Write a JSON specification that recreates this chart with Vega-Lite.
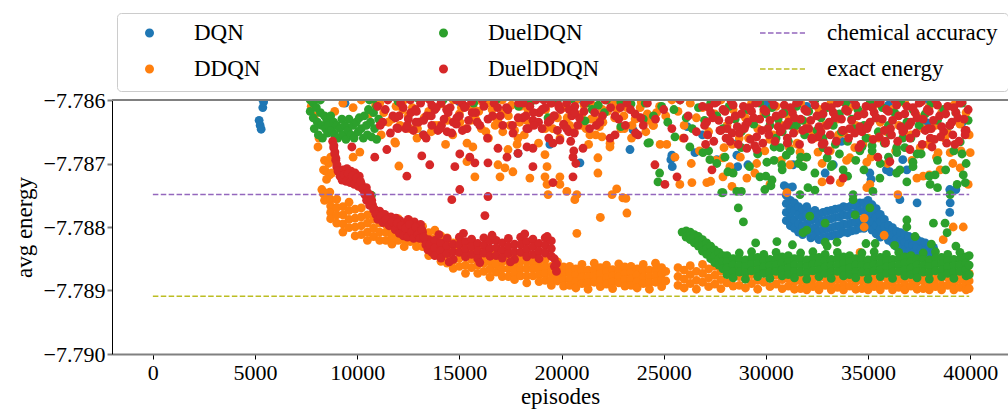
{
"$schema":"https://vega.github.io/schema/vega-lite/v6.json",
"width":896,"height":254,
"autosize":{"type":"none"},
"padding":{"left":112,"top":100,"right":0,"bottom":57},
"background":"white",
"config":{
"view":{"stroke":null},
"font":"Liberation Serif",
"axis":{"grid":false,"labelFont":"Liberation Serif","titleFont":"Liberation Serif","labelColor":"#000","titleColor":"#000","titleFontWeight":"normal","labelFontSize":22,"titleFontSize":23,"labelFlush":false,"labelOverlap":false},
"axisX":{"domainColor":"#808080","domainWidth":2,"tickColor":"#000","tickWidth":1,"tickSize":5,"labelPadding":3,"titlePadding":2},
"axisY":{"domainColor":"#000","domainWidth":1,"tickColor":"#808080","tickWidth":2,"tickSize":5,"labelPadding":2,"titlePadding":7}
},
"datasets":{
"dqn":[
{"x":5200,"y":-7.78632},{"x":5250,"y":-7.78640},{"x":5300,"y":-7.78646},{"x":5380,"y":-7.78612},{"x":5420,"y":-7.78603},{"x":5350,"y":-7.78598},
{"x":9400,"y":-7.78605},{"x":13220,"y":-7.78655},{"x":15000,"y":-7.78603},{"x":17870,"y":-7.78684},{"x":19430,"y":-7.78670},{"x":20900,"y":-7.78699},{"x":21000,"y":-7.78600},{"x":23350,"y":-7.78678},{"x":23500,"y":-7.78647},{"x":25400,"y":-7.78687},{"x":25420,"y":-7.78705},{"x":25350,"y":-7.78694},{"x":26150,"y":-7.78642},{"x":26530,"y":-7.78683},{"x":26900,"y":-7.78655},{"x":27500,"y":-7.78602},{"x":27600,"y":-7.78694},{"x":28580,"y":-7.78687},{"x":28620,"y":-7.78705},{"x":28600,"y":-7.78668},{"x":29120,"y":-7.78702},{"x":30000,"y":-7.78606},{"x":30900,"y":-7.78735},{"x":31080,"y":-7.78738},{"x":31330,"y":-7.78702},{"x":31300,"y":-7.78737},{"x":32000,"y":-7.78610},{"x":32900,"y":-7.78715},{"x":33300,"y":-7.78702},{"x":33500,"y":-7.78662},{"x":33700,"y":-7.78665},{"x":34000,"y":-7.78604},{"x":35090,"y":-7.78715},{"x":35150,"y":-7.78725},{"x":35900,"y":-7.78710},{"x":36000,"y":-7.78608},{"x":36070,"y":-7.78713},{"x":36700,"y":-7.78694},{"x":36560,"y":-7.78757},{"x":36900,"y":-7.78710},{"x":37400,"y":-7.78762},{"x":37900,"y":-7.78636},{"x":38000,"y":-7.78602},{"x":39000,"y":-7.78741},{"x":39020,"y":-7.78762},{"x":39000,"y":-7.78777},{"x":39300,"y":-7.78741},{"x":39600,"y":-7.78636},
{"x":31000,"y":-7.78750},{"x":31000,"y":-7.78763},{"x":31000,"y":-7.78777},{"x":31000,"y":-7.78790},
{"x":31200,"y":-7.78758},{"x":31200,"y":-7.78771},{"x":31200,"y":-7.78785},{"x":31200,"y":-7.78798},
{"x":31400,"y":-7.78762},{"x":31400,"y":-7.78775},{"x":31400,"y":-7.78789},{"x":31400,"y":-7.78802},
{"x":31600,"y":-7.78768},{"x":31600,"y":-7.78781},{"x":31600,"y":-7.78795},{"x":31600,"y":-7.78808},
{"x":31800,"y":-7.78772},{"x":31800,"y":-7.78785},{"x":31800,"y":-7.78799},{"x":31800,"y":-7.78812},
{"x":32000,"y":-7.78768},{"x":32000,"y":-7.78781},{"x":32000,"y":-7.78795},{"x":32000,"y":-7.78808},
{"x":32200,"y":-7.78777},{"x":32200,"y":-7.78790},{"x":32200,"y":-7.78804},{"x":32200,"y":-7.78817},
{"x":32400,"y":-7.78774},{"x":32400,"y":-7.78787},{"x":32400,"y":-7.78801},{"x":32400,"y":-7.78814},
{"x":32600,"y":-7.78780},{"x":32600,"y":-7.78793},{"x":32600,"y":-7.78807},{"x":32600,"y":-7.78820},
{"x":32800,"y":-7.78777},{"x":32800,"y":-7.78790},{"x":32800,"y":-7.78804},{"x":32800,"y":-7.78817},
{"x":33000,"y":-7.78775},{"x":33000,"y":-7.78788},{"x":33000,"y":-7.78802},{"x":33000,"y":-7.78815},
{"x":33200,"y":-7.78774},{"x":33200,"y":-7.78787},{"x":33200,"y":-7.78801},{"x":33200,"y":-7.78814},
{"x":33400,"y":-7.78772},{"x":33400,"y":-7.78785},{"x":33400,"y":-7.78799},{"x":33400,"y":-7.78812},
{"x":33600,"y":-7.78771},{"x":33600,"y":-7.78784},{"x":33600,"y":-7.78798},{"x":33600,"y":-7.78811},
{"x":33800,"y":-7.78768},{"x":33800,"y":-7.78781},{"x":33800,"y":-7.78795},{"x":33800,"y":-7.78808},
{"x":34000,"y":-7.78769},{"x":34000,"y":-7.78782},{"x":34000,"y":-7.78796},{"x":34000,"y":-7.78809},
{"x":34200,"y":-7.78766},{"x":34200,"y":-7.78779},{"x":34200,"y":-7.78793},{"x":34200,"y":-7.78806},
{"x":34400,"y":-7.78765},{"x":34400,"y":-7.78778},{"x":34400,"y":-7.78792},{"x":34400,"y":-7.78805},
{"x":34600,"y":-7.78762},{"x":34600,"y":-7.78775},{"x":34600,"y":-7.78789},{"x":34600,"y":-7.78802},
{"x":34800,"y":-7.78762},{"x":34800,"y":-7.78775},{"x":34800,"y":-7.78789},{"x":34800,"y":-7.78802},
{"x":35000,"y":-7.78758},{"x":35000,"y":-7.78771},{"x":35000,"y":-7.78785},{"x":35000,"y":-7.78798},
{"x":35200,"y":-7.78765},{"x":35200,"y":-7.78778},{"x":35200,"y":-7.78792},{"x":35200,"y":-7.78805},
{"x":35400,"y":-7.78771},{"x":35400,"y":-7.78784},{"x":35400,"y":-7.78798},{"x":35400,"y":-7.78811},
{"x":35600,"y":-7.78780},{"x":35600,"y":-7.78792},{"x":35600,"y":-7.78804},{"x":35600,"y":-7.78816},
{"x":35800,"y":-7.78788},{"x":35800,"y":-7.78800},{"x":35800,"y":-7.78812},
{"x":36000,"y":-7.78797},{"x":36000,"y":-7.78809},{"x":36000,"y":-7.78821},
{"x":36200,"y":-7.78801},{"x":36200,"y":-7.78813},{"x":36200,"y":-7.78825},
{"x":36400,"y":-7.78807},{"x":36400,"y":-7.78819},{"x":36400,"y":-7.78831},
{"x":36600,"y":-7.78809},{"x":36600,"y":-7.78821},{"x":36600,"y":-7.78833},
{"x":36800,"y":-7.78812},{"x":36800,"y":-7.78824},{"x":36800,"y":-7.78836},
{"x":37000,"y":-7.78815},{"x":37000,"y":-7.78827},{"x":37000,"y":-7.78839},
{"x":37200,"y":-7.78817},{"x":37200,"y":-7.78829},{"x":37200,"y":-7.78841},
{"x":37400,"y":-7.78820},{"x":37400,"y":-7.78832},{"x":37400,"y":-7.78844},
{"x":37600,"y":-7.78823},{"x":37600,"y":-7.78835},{"x":37600,"y":-7.78847},
{"x":37800,"y":-7.78825},{"x":37800,"y":-7.78837},{"x":37800,"y":-7.78849},
{"x":38000,"y":-7.78830},{"x":38000,"y":-7.78840},{"x":38000,"y":-7.78850},
{"x":38200,"y":-7.78832},{"x":38200,"y":-7.78842}
],
"ddqn":[
{"x":7700,"y":-7.78598},{"x":7750,"y":-7.78610},{"x":7900,"y":-7.78625},{"x":8080,"y":-7.78674},{"x":8130,"y":-7.78660},{"x":8270,"y":-7.78741},{"x":8350,"y":-7.78710},{"x":8400,"y":-7.78695},{"x":8450,"y":-7.78712},{"x":8500,"y":-7.78725},{"x":8600,"y":-7.78700},{"x":8650,"y":-7.78718},{"x":8700,"y":-7.78690},{"x":8750,"y":-7.78715},{"x":8660,"y":-7.78745},{"x":8500,"y":-7.78752},{"x":8350,"y":-7.78748},{"x":8900,"y":-7.78618},{"x":9300,"y":-7.78605},{"x":9800,"y":-7.78612},{"x":10200,"y":-7.78600},{"x":10600,"y":-7.78622},{"x":10900,"y":-7.78608},
{"x":8400,"y":-7.78746},{"x":8400,"y":-7.78758},
{"x":8700,"y":-7.78757},{"x":8700,"y":-7.78767},{"x":8700,"y":-7.78777},{"x":8700,"y":-7.78787},
{"x":9000,"y":-7.78756},{"x":9000,"y":-7.78769},{"x":9000,"y":-7.78781},{"x":9000,"y":-7.78794},
{"x":9300,"y":-7.78768},{"x":9300,"y":-7.78781},{"x":9300,"y":-7.78795},{"x":9300,"y":-7.78808},
{"x":9600,"y":-7.78761},{"x":9600,"y":-7.78774},{"x":9600,"y":-7.78788},{"x":9600,"y":-7.78801},
{"x":9900,"y":-7.78772},{"x":9900,"y":-7.78786},{"x":9900,"y":-7.78800},{"x":9900,"y":-7.78814},
{"x":10200,"y":-7.78770},{"x":10200,"y":-7.78784},{"x":10200,"y":-7.78798},{"x":10200,"y":-7.78812},
{"x":10500,"y":-7.78781},{"x":10500,"y":-7.78794},{"x":10500,"y":-7.78808},{"x":10500,"y":-7.78821},
{"x":10800,"y":-7.78775},{"x":10800,"y":-7.78788},{"x":10800,"y":-7.78802},{"x":10800,"y":-7.78815},
{"x":11100,"y":-7.78781},{"x":11100,"y":-7.78794},{"x":11100,"y":-7.78808},{"x":11100,"y":-7.78821},
{"x":11400,"y":-7.78783},{"x":11400,"y":-7.78796},{"x":11400,"y":-7.78808},{"x":11400,"y":-7.78821},
{"x":11700,"y":-7.78791},{"x":11700,"y":-7.78803},{"x":11700,"y":-7.78815},{"x":11700,"y":-7.78827},
{"x":12000,"y":-7.78787},{"x":12000,"y":-7.78798},{"x":12000,"y":-7.78810},{"x":12000,"y":-7.78821},
{"x":12300,"y":-7.78799},{"x":12300,"y":-7.78810},{"x":12300,"y":-7.78820},{"x":12300,"y":-7.78831},
{"x":12600,"y":-7.78791},{"x":12600,"y":-7.78802},{"x":12600,"y":-7.78812},{"x":12600,"y":-7.78823},
{"x":12900,"y":-7.78801},{"x":12900,"y":-7.78811},{"x":12900,"y":-7.78821},{"x":12900,"y":-7.78831},
{"x":13200,"y":-7.78799},{"x":13200,"y":-7.78810},{"x":13200,"y":-7.78820},{"x":13200,"y":-7.78831},
{"x":13500,"y":-7.78809},{"x":13500,"y":-7.78821},{"x":13500,"y":-7.78833},{"x":13500,"y":-7.78845},
{"x":13800,"y":-7.78805},{"x":13800,"y":-7.78818},{"x":13800,"y":-7.78830},{"x":13800,"y":-7.78843},
{"x":14100,"y":-7.78814},{"x":14100,"y":-7.78827},{"x":14100,"y":-7.78841},{"x":14100,"y":-7.78854},
{"x":14400,"y":-7.78817},{"x":14400,"y":-7.78830},{"x":14400,"y":-7.78844},{"x":14400,"y":-7.78857},
{"x":14700,"y":-7.78825},{"x":14700,"y":-7.78838},{"x":14700,"y":-7.78852},{"x":14700,"y":-7.78865},
{"x":15000,"y":-7.78822},{"x":15000,"y":-7.78835},{"x":15000,"y":-7.78849},{"x":15000,"y":-7.78862},
{"x":15300,"y":-7.78833},{"x":15300,"y":-7.78846},{"x":15300,"y":-7.78860},{"x":15300,"y":-7.78873},
{"x":15600,"y":-7.78824},{"x":15600,"y":-7.78837},{"x":15600,"y":-7.78851},{"x":15600,"y":-7.78864},
{"x":15900,"y":-7.78833},{"x":15900,"y":-7.78846},{"x":15900,"y":-7.78860},{"x":15900,"y":-7.78873},
{"x":16200,"y":-7.78832},{"x":16200,"y":-7.78845},{"x":16200,"y":-7.78857},{"x":16200,"y":-7.78870},
{"x":16500,"y":-7.78841},{"x":16500,"y":-7.78854},{"x":16500,"y":-7.78866},{"x":16500,"y":-7.78879},
{"x":16800,"y":-7.78835},{"x":16800,"y":-7.78847},{"x":16800,"y":-7.78859},{"x":16800,"y":-7.78871},
{"x":17100,"y":-7.78842},{"x":17100,"y":-7.78854},{"x":17100,"y":-7.78866},{"x":17100,"y":-7.78878},
{"x":17400,"y":-7.78842},{"x":17400,"y":-7.78854},{"x":17400,"y":-7.78866},{"x":17400,"y":-7.78878},
{"x":17700,"y":-7.78849},{"x":17700,"y":-7.78860},{"x":17700,"y":-7.78872},{"x":17700,"y":-7.78883},
{"x":18000,"y":-7.78843},{"x":18000,"y":-7.78854},{"x":18000,"y":-7.78866},{"x":18000,"y":-7.78877},
{"x":18300,"y":-7.78854},{"x":18300,"y":-7.78865},{"x":18300,"y":-7.78877},{"x":18300,"y":-7.78888},
{"x":18600,"y":-7.78845},{"x":18600,"y":-7.78856},{"x":18600,"y":-7.78866},{"x":18600,"y":-7.78877},
{"x":18900,"y":-7.78854},{"x":18900,"y":-7.78865},{"x":18900,"y":-7.78875},{"x":18900,"y":-7.78886},
{"x":19200,"y":-7.78852},{"x":19200,"y":-7.78863},{"x":19200,"y":-7.78873},{"x":19200,"y":-7.78884},
{"x":19500,"y":-7.78862},{"x":19500,"y":-7.78872},{"x":19500,"y":-7.78882},{"x":19500,"y":-7.78892},
{"x":19800,"y":-7.78855},{"x":19800,"y":-7.78865},{"x":19800,"y":-7.78875},{"x":19800,"y":-7.78885},
{"x":20100,"y":-7.78863},{"x":20100,"y":-7.78873},{"x":20100,"y":-7.78883},{"x":20100,"y":-7.78893},
{"x":20400,"y":-7.78862},{"x":20400,"y":-7.78872},{"x":20400,"y":-7.78882},{"x":20400,"y":-7.78892},
{"x":20700,"y":-7.78866},{"x":20700,"y":-7.78876},{"x":20700,"y":-7.78886},{"x":20700,"y":-7.78896},
{"x":21000,"y":-7.78859},{"x":21000,"y":-7.78869},{"x":21000,"y":-7.78879},{"x":21000,"y":-7.78889},
{"x":21300,"y":-7.78868},{"x":21300,"y":-7.78878},{"x":21300,"y":-7.78888},{"x":21300,"y":-7.78898},
{"x":21600,"y":-7.78857},{"x":21600,"y":-7.78867},{"x":21600,"y":-7.78877},{"x":21600,"y":-7.78887},
{"x":21900,"y":-7.78864},{"x":21900,"y":-7.78874},{"x":21900,"y":-7.78884},{"x":21900,"y":-7.78894},
{"x":22200,"y":-7.78860},{"x":22200,"y":-7.78870},{"x":22200,"y":-7.78880},{"x":22200,"y":-7.78890},
{"x":22500,"y":-7.78867},{"x":22500,"y":-7.78877},{"x":22500,"y":-7.78887},{"x":22500,"y":-7.78897},
{"x":22800,"y":-7.78858},{"x":22800,"y":-7.78868},{"x":22800,"y":-7.78878},{"x":22800,"y":-7.78888},
{"x":23100,"y":-7.78863},{"x":23100,"y":-7.78873},{"x":23100,"y":-7.78883},{"x":23100,"y":-7.78893},
{"x":23400,"y":-7.78862},{"x":23400,"y":-7.78872},{"x":23400,"y":-7.78882},{"x":23400,"y":-7.78892},
{"x":23700,"y":-7.78866},{"x":23700,"y":-7.78876},{"x":23700,"y":-7.78886},{"x":23700,"y":-7.78896},
{"x":24000,"y":-7.78859},{"x":24000,"y":-7.78869},{"x":24000,"y":-7.78879},{"x":24000,"y":-7.78889},
{"x":24300,"y":-7.78868},{"x":24300,"y":-7.78878},{"x":24300,"y":-7.78888},{"x":24300,"y":-7.78898},
{"x":24600,"y":-7.78857},{"x":24600,"y":-7.78867},{"x":24600,"y":-7.78877},{"x":24600,"y":-7.78887},
{"x":24900,"y":-7.78864},{"x":24900,"y":-7.78874},{"x":24900,"y":-7.78884},{"x":24900,"y":-7.78894},
{"x":25100,"y":-7.78870},{"x":25100,"y":-7.78885},
{"x":25700,"y":-7.78864},{"x":25700,"y":-7.78878},{"x":25700,"y":-7.78892},
{"x":26000,"y":-7.78868},{"x":26000,"y":-7.78882},{"x":26000,"y":-7.78896},
{"x":26300,"y":-7.78861},{"x":26300,"y":-7.78875},{"x":26300,"y":-7.78889},
{"x":26600,"y":-7.78870},{"x":26600,"y":-7.78884},{"x":26600,"y":-7.78898},
{"x":26900,"y":-7.78859},{"x":26900,"y":-7.78873},{"x":26900,"y":-7.78887},
{"x":27200,"y":-7.78866},{"x":27200,"y":-7.78880},{"x":27200,"y":-7.78894},
{"x":27500,"y":-7.78862},{"x":27500,"y":-7.78876},{"x":27500,"y":-7.78890},
{"x":27800,"y":-7.78869},{"x":27800,"y":-7.78883},{"x":27800,"y":-7.78897},
{"x":28100,"y":-7.78860},{"x":28100,"y":-7.78874},{"x":28100,"y":-7.78888},
{"x":28400,"y":-7.78865},{"x":28400,"y":-7.78879},{"x":28400,"y":-7.78893},
{"x":28700,"y":-7.78864},{"x":28700,"y":-7.78878},{"x":28700,"y":-7.78892},
{"x":29000,"y":-7.78868},{"x":29000,"y":-7.78882},{"x":29000,"y":-7.78896},
{"x":29300,"y":-7.78861},{"x":29300,"y":-7.78875},{"x":29300,"y":-7.78889},
{"x":29600,"y":-7.78870},{"x":29600,"y":-7.78884},{"x":29600,"y":-7.78898},
{"x":29900,"y":-7.78859},{"x":29900,"y":-7.78873},{"x":29900,"y":-7.78887},
{"x":30200,"y":-7.78866},{"x":30200,"y":-7.78880},{"x":30200,"y":-7.78894},
{"x":30500,"y":-7.78862},{"x":30500,"y":-7.78876},{"x":30500,"y":-7.78890},
{"x":30800,"y":-7.78869},{"x":30800,"y":-7.78883},{"x":30800,"y":-7.78897},
{"x":31100,"y":-7.78869},{"x":31100,"y":-7.78881},{"x":31100,"y":-7.78893},
{"x":31400,"y":-7.78874},{"x":31400,"y":-7.78886},{"x":31400,"y":-7.78898},
{"x":31700,"y":-7.78873},{"x":31700,"y":-7.78885},{"x":31700,"y":-7.78897},
{"x":32000,"y":-7.78877},{"x":32000,"y":-7.78889},{"x":32000,"y":-7.78899},
{"x":32300,"y":-7.78870},{"x":32300,"y":-7.78882},{"x":32300,"y":-7.78894},
{"x":32600,"y":-7.78879},{"x":32600,"y":-7.78891},{"x":32600,"y":-7.78899},
{"x":32900,"y":-7.78868},{"x":32900,"y":-7.78880},{"x":32900,"y":-7.78892},
{"x":33200,"y":-7.78875},{"x":33200,"y":-7.78887},{"x":33200,"y":-7.78899},
{"x":33500,"y":-7.78871},{"x":33500,"y":-7.78883},{"x":33500,"y":-7.78895},
{"x":33800,"y":-7.78878},{"x":33800,"y":-7.78890},{"x":33800,"y":-7.78899},
{"x":34100,"y":-7.78869},{"x":34100,"y":-7.78881},{"x":34100,"y":-7.78893},
{"x":34400,"y":-7.78874},{"x":34400,"y":-7.78886},{"x":34400,"y":-7.78898},
{"x":34700,"y":-7.78873},{"x":34700,"y":-7.78885},{"x":34700,"y":-7.78897},
{"x":35000,"y":-7.78877},{"x":35000,"y":-7.78889},{"x":35000,"y":-7.78899},
{"x":35300,"y":-7.78870},{"x":35300,"y":-7.78882},{"x":35300,"y":-7.78894},
{"x":35600,"y":-7.78879},{"x":35600,"y":-7.78891},{"x":35600,"y":-7.78899},
{"x":35900,"y":-7.78868},{"x":35900,"y":-7.78880},{"x":35900,"y":-7.78892},
{"x":36200,"y":-7.78875},{"x":36200,"y":-7.78887},{"x":36200,"y":-7.78899},
{"x":36500,"y":-7.78871},{"x":36500,"y":-7.78883},{"x":36500,"y":-7.78895},
{"x":36800,"y":-7.78878},{"x":36800,"y":-7.78890},{"x":36800,"y":-7.78899},
{"x":37100,"y":-7.78869},{"x":37100,"y":-7.78881},{"x":37100,"y":-7.78893},
{"x":37400,"y":-7.78874},{"x":37400,"y":-7.78886},{"x":37400,"y":-7.78898},
{"x":37700,"y":-7.78873},{"x":37700,"y":-7.78885},{"x":37700,"y":-7.78897},
{"x":38000,"y":-7.78877},{"x":38000,"y":-7.78889},{"x":38000,"y":-7.78899},
{"x":38300,"y":-7.78870},{"x":38300,"y":-7.78882},{"x":38300,"y":-7.78894},
{"x":38600,"y":-7.78879},{"x":38600,"y":-7.78891},{"x":38600,"y":-7.78899},
{"x":38900,"y":-7.78868},{"x":38900,"y":-7.78880},{"x":38900,"y":-7.78892},
{"x":39200,"y":-7.78875},{"x":39200,"y":-7.78887},{"x":39200,"y":-7.78899},
{"x":39500,"y":-7.78871},{"x":39500,"y":-7.78883},{"x":39500,"y":-7.78895},
{"x":39800,"y":-7.78878},{"x":39800,"y":-7.78890},{"x":39800,"y":-7.78899},
{"x":39950,"y":-7.78873},{"x":39950,"y":-7.78885},{"x":39950,"y":-7.78897},
{"x":10130,"y":-7.78682},{"x":9800,"y":-7.78690},{"x":11840,"y":-7.78666},{"x":12040,"y":-7.78704},{"x":15660,"y":-7.78674},{"x":15510,"y":-7.78691},{"x":15760,"y":-7.78721},{"x":15370,"y":-7.78697},{"x":16890,"y":-7.78702},{"x":16990,"y":-7.78721},{"x":17380,"y":-7.78678},{"x":17230,"y":-7.78707},{"x":17620,"y":-7.78713},{"x":17870,"y":-7.78660},{"x":18450,"y":-7.78723},{"x":19190,"y":-7.78686},{"x":19290,"y":-7.78705},{"x":19190,"y":-7.78721},{"x":19290,"y":-7.78733},{"x":19340,"y":-7.78749},{"x":19920,"y":-7.78721},{"x":19920,"y":-7.78733},{"x":20260,"y":-7.78744},{"x":20750,"y":-7.78749},{"x":20650,"y":-7.78757},{"x":21390,"y":-7.78655},{"x":21980,"y":-7.78658},{"x":21780,"y":-7.78691},{"x":21780,"y":-7.78715},{"x":22370,"y":-7.78674},{"x":22470,"y":-7.78749},{"x":23000,"y":-7.78754},{"x":21900,"y":-7.78785},{"x":23200,"y":-7.78778},{"x":20750,"y":-7.78810},{"x":22700,"y":-7.78740},{"x":23150,"y":-7.78755},{"x":25790,"y":-7.78733},{"x":26380,"y":-7.78730},{"x":27110,"y":-7.78730},{"x":27300,"y":-7.78728},{"x":27900,"y":-7.78691},{"x":28240,"y":-7.78705},{"x":27900,"y":-7.78721},{"x":28340,"y":-7.78736},{"x":29070,"y":-7.78723},{"x":30200,"y":-7.78733},{"x":29460,"y":-7.78715},{"x":31180,"y":-7.78702},{"x":31530,"y":-7.78668},{"x":31670,"y":-7.78682},{"x":31030,"y":-7.78746},{"x":32550,"y":-7.78682},{"x":32750,"y":-7.78729},{"x":33640,"y":-7.78730},{"x":34110,"y":-7.78691},{"x":34940,"y":-7.78698},{"x":35090,"y":-7.78733},{"x":34940,"y":-7.78738},{"x":36460,"y":-7.78749},{"x":37390,"y":-7.78723},{"x":37700,"y":-7.78720},{"x":38000,"y":-7.78718},{"x":38530,"y":-7.78710},{"x":38430,"y":-7.78683},{"x":39020,"y":-7.78683},{"x":39510,"y":-7.78707},{"x":39900,"y":-7.78733},{"x":40000,"y":-7.78683},{"x":34810,"y":-7.78786},{"x":34810,"y":-7.78800},{"x":35790,"y":-7.78813},{"x":34610,"y":-7.78840},{"x":38680,"y":-7.78820},{"x":39170,"y":-7.78800},{"x":39660,"y":-7.78800},
{"x":11100,"y":-7.78605},{"x":11300,"y":-7.78620},{"x":11500,"y":-7.78598},{"x":11700,"y":-7.78630},{"x":11900,"y":-7.78610},{"x":12100,"y":-7.78640},{"x":12300,"y":-7.78600},{"x":12500,"y":-7.78625},{"x":12700,"y":-7.78612},{"x":12950,"y":-7.78645},{"x":13200,"y":-7.78598},{"x":13500,"y":-7.78618},{"x":13800,"y":-7.78640},{"x":14100,"y":-7.78606},{"x":14400,"y":-7.78632},{"x":14700,"y":-7.78600},{"x":15000,"y":-7.78622},{"x":15300,"y":-7.78645},{"x":15450,"y":-7.78610},{"x":15800,"y":-7.78630},{"x":16100,"y":-7.78602},{"x":16300,"y":-7.78650},{"x":16600,"y":-7.78615},{"x":16900,"y":-7.78635},{"x":17100,"y":-7.78600},{"x":17400,"y":-7.78625},{"x":17700,"y":-7.78648},{"x":18000,"y":-7.78610},{"x":18300,"y":-7.78632},{"x":18600,"y":-7.78600},{"x":18900,"y":-7.78620},{"x":19200,"y":-7.78645},{"x":19500,"y":-7.78605},{"x":19800,"y":-7.78628},{"x":20100,"y":-7.78612},{"x":20400,"y":-7.78640},{"x":20700,"y":-7.78600},{"x":21000,"y":-7.78622},{"x":21200,"y":-7.78645},{"x":21500,"y":-7.78608},{"x":21700,"y":-7.78632},{"x":22000,"y":-7.78615},{"x":22300,"y":-7.78600},{"x":22600,"y":-7.78628},{"x":22900,"y":-7.78645},{"x":23200,"y":-7.78612},{"x":23600,"y":-7.78630},{"x":23900,"y":-7.78603},{"x":24200,"y":-7.78622},{"x":24500,"y":-7.78640},{"x":24800,"y":-7.78610},{"x":25100,"y":-7.78625},{"x":25400,"y":-7.78600},{"x":25700,"y":-7.78618},{"x":26000,"y":-7.78640},{"x":26300,"y":-7.78605},{"x":26600,"y":-7.78628},{"x":26900,"y":-7.78612},{"x":27200,"y":-7.78650},{"x":27500,"y":-7.78622},{"x":27800,"y":-7.78600},{"x":28100,"y":-7.78640},{"x":28400,"y":-7.78615},{"x":28700,"y":-7.78660},{"x":29000,"y":-7.78628},{"x":29300,"y":-7.78605},{"x":29600,"y":-7.78645},{"x":29900,"y":-7.78620},{"x":30200,"y":-7.78662},{"x":30500,"y":-7.78610},{"x":30800,"y":-7.78640},{"x":31100,"y":-7.78625},{"x":31400,"y":-7.78650},{"x":31700,"y":-7.78605},{"x":32000,"y":-7.78635},{"x":32300,"y":-7.78655},{"x":32600,"y":-7.78615},{"x":32900,"y":-7.78640},{"x":33200,"y":-7.78602},{"x":33500,"y":-7.78630},{"x":33800,"y":-7.78652},{"x":34100,"y":-7.78612},{"x":34400,"y":-7.78640},{"x":34700,"y":-7.78620},{"x":35000,"y":-7.78660},{"x":35300,"y":-7.78608},{"x":35600,"y":-7.78635},{"x":35900,"y":-7.78650},{"x":36200,"y":-7.78615},{"x":36500,"y":-7.78640},{"x":36800,"y":-7.78605},{"x":37100,"y":-7.78655},{"x":37400,"y":-7.78625},{"x":37700,"y":-7.78645},{"x":38000,"y":-7.78610},{"x":38300,"y":-7.78640},{"x":38600,"y":-7.78620},{"x":38900,"y":-7.78652},{"x":39200,"y":-7.78608},{"x":39500,"y":-7.78638},{"x":39800,"y":-7.78620},
{"x":11175,"y":-7.78655},{"x":11525,"y":-7.78635},{"x":11875,"y":-7.78668},{"x":12225,"y":-7.78615},{"x":12575,"y":-7.78645},{"x":12925,"y":-7.78660},{"x":13275,"y":-7.78628},{"x":13625,"y":-7.78650},{"x":13975,"y":-7.78640},{"x":14325,"y":-7.78670},{"x":14675,"y":-7.78655},{"x":15025,"y":-7.78635},{"x":15375,"y":-7.78668},{"x":15725,"y":-7.78615},{"x":16075,"y":-7.78645},{"x":16425,"y":-7.78660},{"x":16775,"y":-7.78628},{"x":17125,"y":-7.78650},{"x":17475,"y":-7.78640},{"x":17825,"y":-7.78670},{"x":18175,"y":-7.78655},{"x":18525,"y":-7.78635},{"x":18875,"y":-7.78668},{"x":19225,"y":-7.78615},{"x":19575,"y":-7.78645},{"x":19925,"y":-7.78660},{"x":20275,"y":-7.78628},{"x":20625,"y":-7.78650},{"x":20975,"y":-7.78640},{"x":21325,"y":-7.78670},{"x":21675,"y":-7.78655},{"x":22025,"y":-7.78635},{"x":22375,"y":-7.78668},{"x":22725,"y":-7.78615},{"x":23075,"y":-7.78645},{"x":23425,"y":-7.78660},{"x":23775,"y":-7.78628},{"x":24125,"y":-7.78650},{"x":24475,"y":-7.78640},{"x":24825,"y":-7.78670},
{"x":15100,"y":-7.78612},{"x":15550,"y":-7.78632},{"x":15950,"y":-7.78618},{"x":16350,"y":-7.78605},{"x":16750,"y":-7.78640},{"x":17150,"y":-7.78620},{"x":17550,"y":-7.78608},{"x":17950,"y":-7.78635},{"x":18350,"y":-7.78615},{"x":21100,"y":-7.78608},{"x":21450,"y":-7.78630},{"x":21850,"y":-7.78642},{"x":22250,"y":-7.78618},{"x":22650,"y":-7.78606},{"x":23050,"y":-7.78625},{"x":23450,"y":-7.78640},{"x":23850,"y":-7.78612},{"x":24250,"y":-7.78632},{"x":24650,"y":-7.78620},
{"x":25150,"y":-7.78670},{"x":25550,"y":-7.78690},{"x":25950,"y":-7.78660},{"x":26350,"y":-7.78700},{"x":26750,"y":-7.78680},{"x":27150,"y":-7.78655},{"x":27550,"y":-7.78695},{"x":27950,"y":-7.78675},{"x":28350,"y":-7.78670},{"x":28750,"y":-7.78690},{"x":29150,"y":-7.78660},{"x":29550,"y":-7.78700},{"x":29950,"y":-7.78680},{"x":30350,"y":-7.78655},{"x":30750,"y":-7.78695},{"x":31150,"y":-7.78675},{"x":31550,"y":-7.78670},{"x":31950,"y":-7.78690},{"x":32350,"y":-7.78660},{"x":32750,"y":-7.78700},{"x":33150,"y":-7.78680},{"x":33550,"y":-7.78655},{"x":33950,"y":-7.78695},{"x":34350,"y":-7.78675},{"x":34750,"y":-7.78670},{"x":35150,"y":-7.78690},{"x":35550,"y":-7.78660},{"x":35950,"y":-7.78700},{"x":36350,"y":-7.78680},{"x":36750,"y":-7.78655},{"x":37150,"y":-7.78695},{"x":37550,"y":-7.78675},{"x":37950,"y":-7.78670},{"x":38350,"y":-7.78690},{"x":38750,"y":-7.78660},{"x":39150,"y":-7.78700},{"x":39550,"y":-7.78680},{"x":39950,"y":-7.78655}
],
"dueldqn":[
{"x":7700,"y":-7.78600},{"x":7700,"y":-7.78618},{"x":7850,"y":-7.78605},{"x":7850,"y":-7.78628},{"x":7900,"y":-7.78645},{"x":8000,"y":-7.78612},{"x":8050,"y":-7.78635},{"x":8100,"y":-7.78655},{"x":8200,"y":-7.78620},{"x":8250,"y":-7.78640},{"x":8300,"y":-7.78660},{"x":8400,"y":-7.78625},{"x":8450,"y":-7.78645},{"x":8500,"y":-7.78630},{"x":8550,"y":-7.78652},{"x":8600,"y":-7.78640},{"x":8700,"y":-7.78625},{"x":8750,"y":-7.78648},{"x":8850,"y":-7.78635},{"x":8900,"y":-7.78655},{"x":9000,"y":-7.78640},{"x":9050,"y":-7.78660},{"x":9150,"y":-7.78645},{"x":9250,"y":-7.78630},{"x":9300,"y":-7.78655},{"x":9400,"y":-7.78640},{"x":9450,"y":-7.78662},{"x":9550,"y":-7.78648},{"x":9600,"y":-7.78630},{"x":9700,"y":-7.78655},{"x":9800,"y":-7.78640},{"x":9850,"y":-7.78660},{"x":9950,"y":-7.78635},{"x":10050,"y":-7.78650},{"x":10100,"y":-7.78628},{"x":10200,"y":-7.78645},{"x":10300,"y":-7.78660},{"x":10350,"y":-7.78625},{"x":10450,"y":-7.78640},{"x":10500,"y":-7.78655},{"x":10550,"y":-7.78615},{"x":10650,"y":-7.78635},{"x":10700,"y":-7.78658},{"x":10800,"y":-7.78620},{"x":10850,"y":-7.78645},{"x":10950,"y":-7.78662},{"x":10950,"y":-7.78610},{"x":11050,"y":-7.78630},{"x":8000,"y":-7.78598},{"x":8200,"y":-7.78600},{"x":10600,"y":-7.78600},{"x":10800,"y":-7.78598},{"x":10700,"y":-7.78750},
{"x":12000,"y":-7.78602},{"x":13000,"y":-7.78598},{"x":14200,"y":-7.78600},{"x":15700,"y":-7.78605},{"x":16800,"y":-7.78600},{"x":17900,"y":-7.78610},{"x":18500,"y":-7.78603},{"x":19340,"y":-7.78628},{"x":19800,"y":-7.78600},{"x":20500,"y":-7.78598},{"x":21150,"y":-7.78633},{"x":21200,"y":-7.78605},{"x":21500,"y":-7.78615},{"x":21800,"y":-7.78608},{"x":22100,"y":-7.78620},{"x":22200,"y":-7.78600},{"x":22900,"y":-7.78603},{"x":22900,"y":-7.78642},{"x":23400,"y":-7.78606},{"x":24000,"y":-7.78630},{"x":24230,"y":-7.78668},
{"x":24300,"y":-7.78667},{"x":24800,"y":-7.78715},{"x":24720,"y":-7.78729},{"x":25550,"y":-7.78658},{"x":26280,"y":-7.78674},{"x":26920,"y":-7.78683},{"x":27260,"y":-7.78694},{"x":28140,"y":-7.78713},{"x":27900,"y":-7.78746},{"x":28580,"y":-7.78744},{"x":28800,"y":-7.78744},{"x":29710,"y":-7.78721},{"x":30300,"y":-7.78726},{"x":30250,"y":-7.78735},{"x":30050,"y":-7.78698},{"x":30780,"y":-7.78702},{"x":30400,"y":-7.78674},{"x":30700,"y":-7.78675},{"x":31000,"y":-7.78687},{"x":31820,"y":-7.78705},{"x":31700,"y":-7.78690},{"x":31670,"y":-7.78749},{"x":32060,"y":-7.78738},{"x":32400,"y":-7.78742},{"x":33000,"y":-7.78691},{"x":33240,"y":-7.78702},{"x":33780,"y":-7.78710},{"x":34270,"y":-7.78749},{"x":34700,"y":-7.78674},{"x":35580,"y":-7.78723},{"x":35240,"y":-7.78744},{"x":36410,"y":-7.78683},{"x":36560,"y":-7.78710},{"x":37200,"y":-7.78698},{"x":37100,"y":-7.78660},{"x":37400,"y":-7.78685},{"x":36900,"y":-7.78729},{"x":38280,"y":-7.78718},{"x":38040,"y":-7.78733},{"x":38400,"y":-7.78738},{"x":39510,"y":-7.78666},{"x":39600,"y":-7.78685},{"x":39660,"y":-7.78718},{"x":39760,"y":-7.78730},{"x":39360,"y":-7.78733},{"x":39020,"y":-7.78749},{"x":27840,"y":-7.78746},{"x":28650,"y":-7.78770},{"x":28900,"y":-7.78792},{"x":30540,"y":-7.78823},{"x":29950,"y":-7.78741},{"x":31820,"y":-7.78809},{"x":32000,"y":-7.78805},{"x":32150,"y":-7.78783},{"x":32900,"y":-7.78794},{"x":32900,"y":-7.78824},{"x":33480,"y":-7.78824},{"x":34370,"y":-7.78781},{"x":34270,"y":-7.78757},{"x":35090,"y":-7.78770},{"x":35350,"y":-7.78826},{"x":36900,"y":-7.78789},{"x":36900,"y":-7.78800},{"x":37300,"y":-7.78815},{"x":38200,"y":-7.78794},{"x":38770,"y":-7.78794},{"x":38870,"y":-7.78809},{"x":30200,"y":-7.78640},{"x":30500,"y":-7.78660},{"x":30800,"y":-7.78650},{"x":31100,"y":-7.78665},{"x":33700,"y":-7.78650},{"x":34000,"y":-7.78665},{"x":34300,"y":-7.78645},{"x":34600,"y":-7.78680},{"x":34900,"y":-7.78660},{"x":35200,"y":-7.78672},{"x":35500,"y":-7.78650},{"x":35800,"y":-7.78668},{"x":36100,"y":-7.78655},{"x":36400,"y":-7.78675},{"x":36700,"y":-7.78660},{"x":33400,"y":-7.78670},{"x":32800,"y":-7.78660},{"x":32500,"y":-7.78648},{"x":31900,"y":-7.78655},{"x":31500,"y":-7.78640},
{"x":27200,"y":-7.78680},{"x":27600,"y":-7.78700},{"x":28000,"y":-7.78690},{"x":28400,"y":-7.78715},{"x":28800,"y":-7.78675},{"x":29200,"y":-7.78705},{"x":29600,"y":-7.78685},{"x":30000,"y":-7.78720},{"x":30400,"y":-7.78695},{"x":30800,"y":-7.78710},{"x":31200,"y":-7.78680},{"x":31600,"y":-7.78700},{"x":32000,"y":-7.78690},{"x":32400,"y":-7.78715},{"x":32800,"y":-7.78675},{"x":33200,"y":-7.78705},{"x":33600,"y":-7.78685},{"x":34000,"y":-7.78720},{"x":34400,"y":-7.78695},{"x":34800,"y":-7.78710},{"x":35200,"y":-7.78680},{"x":35600,"y":-7.78700},{"x":36000,"y":-7.78690},{"x":36400,"y":-7.78715},{"x":36800,"y":-7.78675},{"x":37200,"y":-7.78705},{"x":37600,"y":-7.78685},{"x":38000,"y":-7.78720},{"x":38400,"y":-7.78695},{"x":38800,"y":-7.78710},{"x":39200,"y":-7.78680},{"x":39800,"y":-7.78700},
{"x":24100,"y":-7.78605},{"x":24500,"y":-7.78625},{"x":24900,"y":-7.78610},{"x":25200,"y":-7.78635},{"x":25500,"y":-7.78615},{"x":25800,"y":-7.78600},{"x":26100,"y":-7.78628},{"x":26400,"y":-7.78645},{"x":26700,"y":-7.78612},{"x":27000,"y":-7.78632},{"x":27300,"y":-7.78605},{"x":27600,"y":-7.78625},{"x":27900,"y":-7.78645},{"x":28200,"y":-7.78610},{"x":28500,"y":-7.78630},{"x":28800,"y":-7.78650},{"x":29100,"y":-7.78615},{"x":29400,"y":-7.78638},{"x":29700,"y":-7.78605},{"x":30000,"y":-7.78622},{"x":30300,"y":-7.78612},{"x":30600,"y":-7.78630},{"x":30900,"y":-7.78620},{"x":31200,"y":-7.78640},{"x":31500,"y":-7.78610},{"x":31800,"y":-7.78632},{"x":32100,"y":-7.78618},{"x":32400,"y":-7.78600},{"x":32700,"y":-7.78628},{"x":33000,"y":-7.78612},{"x":33300,"y":-7.78640},{"x":33600,"y":-7.78622},{"x":33900,"y":-7.78605},{"x":34200,"y":-7.78630},{"x":34500,"y":-7.78615},{"x":34800,"y":-7.78640},{"x":35100,"y":-7.78605},{"x":35400,"y":-7.78628},{"x":35700,"y":-7.78612},{"x":36000,"y":-7.78640},{"x":36300,"y":-7.78620},{"x":36600,"y":-7.78602},{"x":36900,"y":-7.78635},{"x":37200,"y":-7.78615},{"x":37500,"y":-7.78640},{"x":37800,"y":-7.78622},{"x":38100,"y":-7.78605},{"x":38400,"y":-7.78632},{"x":38700,"y":-7.78615},{"x":39000,"y":-7.78640},{"x":39300,"y":-7.78620},{"x":39600,"y":-7.78605},{"x":39900,"y":-7.78632},
{"x":25900,"y":-7.78808},{"x":26100,"y":-7.78806},{"x":26100,"y":-7.78816},{"x":26300,"y":-7.78808},{"x":26300,"y":-7.78814},{"x":26300,"y":-7.78820},{"x":26500,"y":-7.78812},{"x":26500,"y":-7.78818},{"x":26500,"y":-7.78825},{"x":26700,"y":-7.78815},{"x":26700,"y":-7.78822},{"x":26700,"y":-7.78830},{"x":26900,"y":-7.78820},{"x":26900,"y":-7.78829},{"x":26900,"y":-7.78838},{"x":27100,"y":-7.78825},{"x":27100,"y":-7.78834},{"x":27100,"y":-7.78843},{"x":27300,"y":-7.78830},{"x":27300,"y":-7.78840},{"x":27300,"y":-7.78850},{"x":27500,"y":-7.78836},{"x":27500,"y":-7.78846},{"x":27500,"y":-7.78856},{"x":27700,"y":-7.78840},{"x":27700,"y":-7.78850},{"x":27700,"y":-7.78860},{"x":27900,"y":-7.78845},{"x":27900,"y":-7.78855},{"x":27900,"y":-7.78866},
{"x":28100,"y":-7.78845},{"x":28100,"y":-7.78855},{"x":28100,"y":-7.78865},{"x":28100,"y":-7.78875},
{"x":28400,"y":-7.78850},{"x":28400,"y":-7.78860},{"x":28400,"y":-7.78870},{"x":28400,"y":-7.78880},
{"x":28700,"y":-7.78841},{"x":28700,"y":-7.78851},{"x":28700,"y":-7.78861},{"x":28700,"y":-7.78871},
{"x":29000,"y":-7.78852},{"x":29000,"y":-7.78862},{"x":29000,"y":-7.78872},{"x":29000,"y":-7.78882},
{"x":29300,"y":-7.78839},{"x":29300,"y":-7.78849},{"x":29300,"y":-7.78859},{"x":29300,"y":-7.78869},
{"x":29600,"y":-7.78848},{"x":29600,"y":-7.78858},{"x":29600,"y":-7.78868},{"x":29600,"y":-7.78878},
{"x":29900,"y":-7.78843},{"x":29900,"y":-7.78853},{"x":29900,"y":-7.78863},{"x":29900,"y":-7.78873},
{"x":30200,"y":-7.78851},{"x":30200,"y":-7.78861},{"x":30200,"y":-7.78871},{"x":30200,"y":-7.78881},
{"x":30500,"y":-7.78840},{"x":30500,"y":-7.78850},{"x":30500,"y":-7.78860},{"x":30500,"y":-7.78870},
{"x":30800,"y":-7.78847},{"x":30800,"y":-7.78857},{"x":30800,"y":-7.78867},{"x":30800,"y":-7.78877},
{"x":31100,"y":-7.78845},{"x":31100,"y":-7.78855},{"x":31100,"y":-7.78865},{"x":31100,"y":-7.78875},
{"x":31400,"y":-7.78850},{"x":31400,"y":-7.78860},{"x":31400,"y":-7.78870},{"x":31400,"y":-7.78880},
{"x":31700,"y":-7.78841},{"x":31700,"y":-7.78851},{"x":31700,"y":-7.78861},{"x":31700,"y":-7.78871},
{"x":32000,"y":-7.78852},{"x":32000,"y":-7.78862},{"x":32000,"y":-7.78872},{"x":32000,"y":-7.78882},
{"x":32300,"y":-7.78839},{"x":32300,"y":-7.78849},{"x":32300,"y":-7.78859},{"x":32300,"y":-7.78869},
{"x":32600,"y":-7.78848},{"x":32600,"y":-7.78858},{"x":32600,"y":-7.78868},{"x":32600,"y":-7.78878},
{"x":32900,"y":-7.78843},{"x":32900,"y":-7.78853},{"x":32900,"y":-7.78863},{"x":32900,"y":-7.78873},
{"x":33200,"y":-7.78851},{"x":33200,"y":-7.78861},{"x":33200,"y":-7.78871},{"x":33200,"y":-7.78881},
{"x":33500,"y":-7.78840},{"x":33500,"y":-7.78850},{"x":33500,"y":-7.78860},{"x":33500,"y":-7.78870},
{"x":33800,"y":-7.78847},{"x":33800,"y":-7.78857},{"x":33800,"y":-7.78867},{"x":33800,"y":-7.78877},
{"x":34100,"y":-7.78845},{"x":34100,"y":-7.78855},{"x":34100,"y":-7.78865},{"x":34100,"y":-7.78875},
{"x":34400,"y":-7.78850},{"x":34400,"y":-7.78860},{"x":34400,"y":-7.78870},{"x":34400,"y":-7.78880},
{"x":34700,"y":-7.78841},{"x":34700,"y":-7.78851},{"x":34700,"y":-7.78861},{"x":34700,"y":-7.78871},
{"x":35000,"y":-7.78852},{"x":35000,"y":-7.78862},{"x":35000,"y":-7.78872},{"x":35000,"y":-7.78882},
{"x":35300,"y":-7.78839},{"x":35300,"y":-7.78849},{"x":35300,"y":-7.78859},{"x":35300,"y":-7.78869},
{"x":35600,"y":-7.78848},{"x":35600,"y":-7.78858},{"x":35600,"y":-7.78868},{"x":35600,"y":-7.78878},
{"x":35900,"y":-7.78843},{"x":35900,"y":-7.78853},{"x":35900,"y":-7.78863},{"x":35900,"y":-7.78873},
{"x":36200,"y":-7.78851},{"x":36200,"y":-7.78861},{"x":36200,"y":-7.78871},{"x":36200,"y":-7.78881},
{"x":36500,"y":-7.78840},{"x":36500,"y":-7.78850},{"x":36500,"y":-7.78860},{"x":36500,"y":-7.78870},
{"x":36800,"y":-7.78847},{"x":36800,"y":-7.78857},{"x":36800,"y":-7.78867},{"x":36800,"y":-7.78877},
{"x":37100,"y":-7.78845},{"x":37100,"y":-7.78855},{"x":37100,"y":-7.78865},{"x":37100,"y":-7.78875},
{"x":37400,"y":-7.78850},{"x":37400,"y":-7.78860},{"x":37400,"y":-7.78870},{"x":37400,"y":-7.78880},
{"x":37700,"y":-7.78841},{"x":37700,"y":-7.78851},{"x":37700,"y":-7.78861},{"x":37700,"y":-7.78871},
{"x":38000,"y":-7.78852},{"x":38000,"y":-7.78862},{"x":38000,"y":-7.78872},{"x":38000,"y":-7.78882},
{"x":38300,"y":-7.78839},{"x":38300,"y":-7.78849},{"x":38300,"y":-7.78859},{"x":38300,"y":-7.78869},
{"x":38600,"y":-7.78848},{"x":38600,"y":-7.78858},{"x":38600,"y":-7.78868},{"x":38600,"y":-7.78878},
{"x":38900,"y":-7.78843},{"x":38900,"y":-7.78853},{"x":38900,"y":-7.78863},{"x":38900,"y":-7.78873},
{"x":39200,"y":-7.78851},{"x":39200,"y":-7.78861},{"x":39200,"y":-7.78871},{"x":39200,"y":-7.78881},
{"x":39500,"y":-7.78840},{"x":39500,"y":-7.78850},{"x":39500,"y":-7.78860},{"x":39500,"y":-7.78870},
{"x":39800,"y":-7.78847},{"x":39800,"y":-7.78857},{"x":39800,"y":-7.78867},{"x":39800,"y":-7.78877},
{"x":39950,"y":-7.78845},{"x":39950,"y":-7.78860},{"x":39950,"y":-7.78875},
{"x":29500,"y":-7.78825},{"x":31300,"y":-7.78828},{"x":33000,"y":-7.78830},{"x":34900,"y":-7.78826},{"x":36300,"y":-7.78829},{"x":38100,"y":-7.78827},{"x":39300,"y":-7.78830}
],
"dueldddqn":[
{"x":8800,"y":-7.78665},{"x":8850,"y":-7.78675},{"x":8900,"y":-7.78685},{"x":8950,"y":-7.78695},{"x":9000,"y":-7.78705},{"x":9100,"y":-7.78712},{"x":9200,"y":-7.78718},{"x":9300,"y":-7.78710},{"x":9400,"y":-7.78720},{"x":9500,"y":-7.78708},{"x":9600,"y":-7.78722},{"x":9700,"y":-7.78712},{"x":9800,"y":-7.78725},{"x":9900,"y":-7.78715},{"x":10000,"y":-7.78728},{"x":10100,"y":-7.78720},{"x":10200,"y":-7.78732},{"x":10300,"y":-7.78740},{"x":10400,"y":-7.78750},{"x":10450,"y":-7.78738},{"x":10550,"y":-7.78758},{"x":10650,"y":-7.78750},{"x":10750,"y":-7.78765},{"x":10850,"y":-7.78772},{"x":10950,"y":-7.78780},{"x":11100,"y":-7.78775},{"x":11200,"y":-7.78785},{"x":11350,"y":-7.78780},{"x":11500,"y":-7.78790},{"x":11650,"y":-7.78784},{"x":11800,"y":-7.78796},{"x":11900,"y":-7.78786},{"x":12000,"y":-7.78802},{"x":12100,"y":-7.78790},{"x":12200,"y":-7.78806},{"x":12300,"y":-7.78794},{"x":12400,"y":-7.78808},{"x":12500,"y":-7.78788},{"x":12600,"y":-7.78800},{"x":12700,"y":-7.78810},{"x":12800,"y":-7.78792},{"x":12900,"y":-7.78804},{"x":13000,"y":-7.78810},{"x":13100,"y":-7.78796},{"x":13200,"y":-7.78808},{"x":13300,"y":-7.78820},{"x":13400,"y":-7.78828},{"x":13500,"y":-7.78820},{"x":13600,"y":-7.78834},
{"x":8860,"y":-7.78672},{"x":8910,"y":-7.78682},{"x":8960,"y":-7.78692},{"x":9010,"y":-7.78702},{"x":9060,"y":-7.78712},{"x":9160,"y":-7.78720},{"x":9260,"y":-7.78726},{"x":9360,"y":-7.78718},{"x":9460,"y":-7.78728},{"x":9560,"y":-7.78716},{"x":9660,"y":-7.78730},{"x":9760,"y":-7.78720},{"x":9860,"y":-7.78733},{"x":9960,"y":-7.78723},{"x":10060,"y":-7.78736},{"x":10160,"y":-7.78728},{"x":10260,"y":-7.78740},{"x":10360,"y":-7.78748},{"x":10460,"y":-7.78758},{"x":10510,"y":-7.78746},{"x":10610,"y":-7.78766},{"x":10710,"y":-7.78758},{"x":10810,"y":-7.78773},{"x":10910,"y":-7.78780},{"x":11010,"y":-7.78788},{"x":11160,"y":-7.78783},{"x":11260,"y":-7.78793},{"x":11410,"y":-7.78788},{"x":11560,"y":-7.78798},{"x":11710,"y":-7.78792},{"x":11860,"y":-7.78804},{"x":11960,"y":-7.78794},{"x":12060,"y":-7.78810},{"x":12160,"y":-7.78798},{"x":12260,"y":-7.78814},{"x":12360,"y":-7.78802},{"x":12460,"y":-7.78816},{"x":12560,"y":-7.78796},{"x":12660,"y":-7.78808},{"x":12760,"y":-7.78818},{"x":12860,"y":-7.78800},{"x":12960,"y":-7.78812},{"x":13060,"y":-7.78818},{"x":13160,"y":-7.78804},{"x":13260,"y":-7.78816},{"x":13360,"y":-7.78828},{"x":13460,"y":-7.78836},{"x":13560,"y":-7.78828},{"x":13660,"y":-7.78840},
{"x":13800,"y":-7.78821},{"x":13800,"y":-7.78833},{"x":13800,"y":-7.78845},
{"x":14100,"y":-7.78825},{"x":14100,"y":-7.78837},{"x":14100,"y":-7.78849},
{"x":14400,"y":-7.78818},{"x":14400,"y":-7.78830},{"x":14400,"y":-7.78842},
{"x":14700,"y":-7.78827},{"x":14700,"y":-7.78839},{"x":14700,"y":-7.78851},
{"x":15000,"y":-7.78816},{"x":15000,"y":-7.78828},{"x":15000,"y":-7.78840},
{"x":15300,"y":-7.78823},{"x":15300,"y":-7.78835},{"x":15300,"y":-7.78847},
{"x":15600,"y":-7.78819},{"x":15600,"y":-7.78831},{"x":15600,"y":-7.78843},
{"x":15900,"y":-7.78826},{"x":15900,"y":-7.78838},{"x":15900,"y":-7.78850},
{"x":16200,"y":-7.78817},{"x":16200,"y":-7.78829},{"x":16200,"y":-7.78841},
{"x":16500,"y":-7.78822},{"x":16500,"y":-7.78834},{"x":16500,"y":-7.78846},
{"x":16800,"y":-7.78821},{"x":16800,"y":-7.78833},{"x":16800,"y":-7.78845},
{"x":17100,"y":-7.78825},{"x":17100,"y":-7.78837},{"x":17100,"y":-7.78849},
{"x":17400,"y":-7.78818},{"x":17400,"y":-7.78830},{"x":17400,"y":-7.78842},
{"x":17700,"y":-7.78827},{"x":17700,"y":-7.78839},{"x":17700,"y":-7.78851},
{"x":18000,"y":-7.78816},{"x":18000,"y":-7.78828},{"x":18000,"y":-7.78840},
{"x":18300,"y":-7.78823},{"x":18300,"y":-7.78835},{"x":18300,"y":-7.78847},
{"x":18600,"y":-7.78819},{"x":18600,"y":-7.78831},{"x":18600,"y":-7.78843},
{"x":18900,"y":-7.78826},{"x":18900,"y":-7.78838},{"x":18900,"y":-7.78850},
{"x":19200,"y":-7.78817},{"x":19200,"y":-7.78829},{"x":19200,"y":-7.78841},
{"x":19500,"y":-7.78822},{"x":19500,"y":-7.78834},{"x":19500,"y":-7.78846},
{"x":19650,"y":-7.78850},{"x":19650,"y":-7.78862},{"x":19750,"y":-7.78858},{"x":19750,"y":-7.78870},
{"x":14000,"y":-7.78812},{"x":15200,"y":-7.78810},{"x":16600,"y":-7.78813},{"x":18200,"y":-7.78811},{"x":19300,"y":-7.78815},{"x":14500,"y":-7.78855},{"x":16000,"y":-7.78856},{"x":17500,"y":-7.78855},
{"x":9740,"y":-7.78674},{"x":10860,"y":-7.78690},{"x":11450,"y":-7.78678},{"x":11940,"y":-7.78644},{"x":12430,"y":-7.78720},{"x":13160,"y":-7.78688},{"x":13550,"y":-7.78702},{"x":14780,"y":-7.78705},{"x":15020,"y":-7.78685},{"x":15020,"y":-7.78741},{"x":14630,"y":-7.78757},{"x":15760,"y":-7.78699},{"x":15510,"y":-7.78690},{"x":16250,"y":-7.78782},{"x":16400,"y":-7.78699},{"x":16400,"y":-7.78752},{"x":16890,"y":-7.78676},{"x":17330,"y":-7.78690},{"x":17870,"y":-7.78684},{"x":18310,"y":-7.78674},{"x":18600,"y":-7.78676},{"x":18600,"y":-7.78705},{"x":19580,"y":-7.78730},{"x":19920,"y":-7.78663},{"x":19580,"y":-7.78668},{"x":20560,"y":-7.78690},{"x":20560,"y":-7.78721},{"x":21050,"y":-7.78676},{"x":22620,"y":-7.78655},{"x":23740,"y":-7.78655},{"x":24570,"y":-7.78702},{"x":25060,"y":-7.78733},{"x":25650,"y":-7.78721},{"x":27360,"y":-7.78710},{"x":29070,"y":-7.78676},{"x":29560,"y":-7.78678},{"x":32750,"y":-7.78670},{"x":33150,"y":-7.78726},{"x":33780,"y":-7.78723},{"x":35480,"y":-7.78690},{"x":36070,"y":-7.78697},{"x":38130,"y":-7.78674},
{"x":11000,"y":-7.78610},{"x":11250,"y":-7.78635},{"x":11500,"y":-7.78600},{"x":11750,"y":-7.78625},{"x":12000,"y":-7.78645},{"x":12250,"y":-7.78612},{"x":12500,"y":-7.78630},{"x":12600,"y":-7.78600},{"x":12750,"y":-7.78648},{"x":12900,"y":-7.78618},{"x":13000,"y":-7.78635},{"x":13100,"y":-7.78605},{"x":13250,"y":-7.78655},{"x":13400,"y":-7.78625},{"x":13550,"y":-7.78600},{"x":13650,"y":-7.78640},{"x":13800,"y":-7.78615},{"x":13950,"y":-7.78648},{"x":14100,"y":-7.78605},{"x":14250,"y":-7.78630},{"x":14400,"y":-7.78650},{"x":14550,"y":-7.78612},{"x":14700,"y":-7.78635},{"x":14850,"y":-7.78600},{"x":15000,"y":-7.78625},{"x":15150,"y":-7.78648},{"x":15300,"y":-7.78610},{"x":15450,"y":-7.78632},{"x":15600,"y":-7.78602},{"x":15800,"y":-7.78620},{"x":16000,"y":-7.78640},{"x":16200,"y":-7.78610},{"x":16400,"y":-7.78630},{"x":16700,"y":-7.78605},{"x":17000,"y":-7.78625},{"x":17300,"y":-7.78612},{"x":17600,"y":-7.78640},{"x":17900,"y":-7.78605},{"x":18100,"y":-7.78628},{"x":18300,"y":-7.78645},{"x":18450,"y":-7.78610},{"x":18600,"y":-7.78632},{"x":18750,"y":-7.78600},{"x":18900,"y":-7.78620},{"x":19050,"y":-7.78645},{"x":19200,"y":-7.78612},{"x":19350,"y":-7.78635},{"x":19500,"y":-7.78605},{"x":19650,"y":-7.78625},{"x":19800,"y":-7.78648},{"x":19950,"y":-7.78615},{"x":20100,"y":-7.78638},{"x":20250,"y":-7.78605},{"x":20350,"y":-7.78650},{"x":20450,"y":-7.78665},{"x":20500,"y":-7.78625},{"x":20600,"y":-7.78680},{"x":20650,"y":-7.78610},{"x":20700,"y":-7.78700},{"x":20800,"y":-7.78640},{"x":21100,"y":-7.78618},{"x":21400,"y":-7.78600},{"x":21700,"y":-7.78640},{"x":22000,"y":-7.78625},{"x":22400,"y":-7.78612},{"x":22800,"y":-7.78630},{"x":23200,"y":-7.78605},{"x":23600,"y":-7.78622},{"x":24000,"y":-7.78640},
{"x":11125,"y":-7.78640},{"x":11375,"y":-7.78615},{"x":11625,"y":-7.78652},{"x":11875,"y":-7.78628},{"x":12125,"y":-7.78605},{"x":12375,"y":-7.78645},{"x":12625,"y":-7.78620},{"x":12875,"y":-7.78635},{"x":13125,"y":-7.78600},{"x":13375,"y":-7.78660},{"x":13625,"y":-7.78625},{"x":13875,"y":-7.78612},{"x":14125,"y":-7.78640},{"x":14375,"y":-7.78615},{"x":14625,"y":-7.78652},{"x":14875,"y":-7.78628},{"x":15125,"y":-7.78605},{"x":15375,"y":-7.78645},{"x":15625,"y":-7.78620},{"x":15875,"y":-7.78635},{"x":16125,"y":-7.78600},{"x":16375,"y":-7.78660},{"x":16625,"y":-7.78625},{"x":16875,"y":-7.78612},{"x":17125,"y":-7.78640},{"x":17375,"y":-7.78615},{"x":17625,"y":-7.78652},{"x":17875,"y":-7.78628},{"x":18125,"y":-7.78605},{"x":18375,"y":-7.78645},{"x":18625,"y":-7.78620},{"x":18875,"y":-7.78635},{"x":19125,"y":-7.78600},{"x":19375,"y":-7.78660},{"x":19625,"y":-7.78625},{"x":19875,"y":-7.78612},{"x":20125,"y":-7.78640},{"x":20375,"y":-7.78615},{"x":20625,"y":-7.78652},{"x":20875,"y":-7.78628},{"x":21125,"y":-7.78605},{"x":21375,"y":-7.78645},{"x":21625,"y":-7.78620},{"x":21875,"y":-7.78635},{"x":22125,"y":-7.78600},{"x":22375,"y":-7.78660},{"x":22625,"y":-7.78625},{"x":22875,"y":-7.78612},{"x":23125,"y":-7.78640},{"x":23375,"y":-7.78615},{"x":23625,"y":-7.78652},{"x":23875,"y":-7.78628},
{"x":12050,"y":-7.78625},{"x":12450,"y":-7.78640},{"x":12850,"y":-7.78615},{"x":13250,"y":-7.78632},{"x":13650,"y":-7.78608},{"x":14050,"y":-7.78645},{"x":14450,"y":-7.78620},{"x":14850,"y":-7.78638},{"x":15250,"y":-7.78612},{"x":18250,"y":-7.78625},{"x":18650,"y":-7.78640},{"x":19050,"y":-7.78615},{"x":19450,"y":-7.78632},{"x":19850,"y":-7.78608},{"x":20250,"y":-7.78645},{"x":20650,"y":-7.78620},
{"x":24200,"y":-7.78605},{"x":24600,"y":-7.78630},{"x":25000,"y":-7.78615},{"x":25400,"y":-7.78645},{"x":25800,"y":-7.78600},{"x":26200,"y":-7.78625},{"x":26600,"y":-7.78650},{"x":26900,"y":-7.78610},{"x":27100,"y":-7.78635},{"x":27300,"y":-7.78620},{"x":27500,"y":-7.78605},{"x":27700,"y":-7.78632},{"x":27900,"y":-7.78615},{"x":28100,"y":-7.78645},{"x":28300,"y":-7.78602},{"x":28500,"y":-7.78625},{"x":28700,"y":-7.78652},{"x":28900,"y":-7.78610},{"x":29100,"y":-7.78635},{"x":29300,"y":-7.78618},{"x":29500,"y":-7.78605},{"x":29700,"y":-7.78630},{"x":29900,"y":-7.78615},{"x":30100,"y":-7.78645},{"x":30300,"y":-7.78600},{"x":30500,"y":-7.78625},{"x":30700,"y":-7.78650},{"x":30900,"y":-7.78608},{"x":31100,"y":-7.78635},{"x":31300,"y":-7.78620},{"x":31500,"y":-7.78605},{"x":31700,"y":-7.78630},{"x":31900,"y":-7.78615},{"x":32100,"y":-7.78645},{"x":32300,"y":-7.78600},{"x":32500,"y":-7.78625},{"x":32700,"y":-7.78650},{"x":32900,"y":-7.78610},{"x":33100,"y":-7.78635},{"x":33300,"y":-7.78620},{"x":33500,"y":-7.78605},{"x":33700,"y":-7.78630},{"x":33900,"y":-7.78615},{"x":34100,"y":-7.78645},{"x":34300,"y":-7.78600},{"x":34500,"y":-7.78625},{"x":34700,"y":-7.78650},{"x":34900,"y":-7.78610},{"x":35100,"y":-7.78635},{"x":35300,"y":-7.78620},{"x":35500,"y":-7.78605},{"x":35700,"y":-7.78630},{"x":35900,"y":-7.78615},{"x":36100,"y":-7.78645},{"x":36300,"y":-7.78600},{"x":36500,"y":-7.78625},{"x":36700,"y":-7.78650},{"x":36900,"y":-7.78610},{"x":37100,"y":-7.78635},{"x":37300,"y":-7.78620},{"x":37500,"y":-7.78605},{"x":37700,"y":-7.78630},{"x":37900,"y":-7.78615},{"x":38100,"y":-7.78645},{"x":38300,"y":-7.78600},{"x":38500,"y":-7.78625},{"x":38700,"y":-7.78650},{"x":38900,"y":-7.78610},{"x":39100,"y":-7.78635},{"x":39300,"y":-7.78620},{"x":39500,"y":-7.78605},{"x":39700,"y":-7.78630},{"x":39900,"y":-7.78615},
{"x":27000,"y":-7.78640},{"x":27200,"y":-7.78612},{"x":27400,"y":-7.78628},{"x":27600,"y":-7.78603},{"x":27800,"y":-7.78648},{"x":28000,"y":-7.78618},{"x":28200,"y":-7.78632},{"x":28400,"y":-7.78608},{"x":28600,"y":-7.78642},{"x":28800,"y":-7.78622},{"x":29000,"y":-7.78640},{"x":29200,"y":-7.78612},{"x":29400,"y":-7.78628},{"x":29600,"y":-7.78603},{"x":29800,"y":-7.78648},{"x":30000,"y":-7.78618},{"x":30200,"y":-7.78632},{"x":30400,"y":-7.78608},{"x":30600,"y":-7.78642},{"x":30800,"y":-7.78622},{"x":31000,"y":-7.78640},{"x":31200,"y":-7.78612},{"x":31400,"y":-7.78628},{"x":31600,"y":-7.78603},{"x":31800,"y":-7.78648},{"x":32000,"y":-7.78618},{"x":32200,"y":-7.78632},{"x":32400,"y":-7.78608},{"x":32600,"y":-7.78642},{"x":32800,"y":-7.78622},{"x":33000,"y":-7.78640},{"x":33200,"y":-7.78612},{"x":33400,"y":-7.78628},{"x":33600,"y":-7.78603},{"x":33800,"y":-7.78648},{"x":34000,"y":-7.78618},{"x":34200,"y":-7.78632},{"x":34400,"y":-7.78608},{"x":34600,"y":-7.78642},{"x":34800,"y":-7.78622},{"x":35000,"y":-7.78640},{"x":35200,"y":-7.78612},{"x":35400,"y":-7.78628},{"x":35600,"y":-7.78603},{"x":35800,"y":-7.78648},{"x":36000,"y":-7.78618},{"x":36200,"y":-7.78632},{"x":36400,"y":-7.78608},{"x":36600,"y":-7.78642},{"x":36800,"y":-7.78622},{"x":37000,"y":-7.78640},{"x":37200,"y":-7.78612},{"x":37400,"y":-7.78628},{"x":37600,"y":-7.78603},{"x":37800,"y":-7.78648},{"x":38000,"y":-7.78618},{"x":38200,"y":-7.78632},{"x":38400,"y":-7.78608},{"x":38600,"y":-7.78642},{"x":38800,"y":-7.78622},{"x":39000,"y":-7.78640},{"x":39200,"y":-7.78612},{"x":39400,"y":-7.78628},{"x":39600,"y":-7.78603},{"x":39800,"y":-7.78648},
{"x":27150,"y":-7.78655},{"x":27450,"y":-7.78665},{"x":27750,"y":-7.78648},{"x":28050,"y":-7.78660},{"x":28350,"y":-7.78652},{"x":28650,"y":-7.78670},{"x":28950,"y":-7.78645},{"x":29250,"y":-7.78662},{"x":29550,"y":-7.78658},{"x":29850,"y":-7.78668},{"x":30150,"y":-7.78655},{"x":30450,"y":-7.78665},{"x":30750,"y":-7.78648},{"x":31050,"y":-7.78660},{"x":31350,"y":-7.78652},{"x":31650,"y":-7.78670},{"x":31950,"y":-7.78645},{"x":32250,"y":-7.78662},{"x":32550,"y":-7.78658},{"x":32850,"y":-7.78668},{"x":33150,"y":-7.78655},{"x":33450,"y":-7.78665},{"x":33750,"y":-7.78648},{"x":34050,"y":-7.78660},{"x":34350,"y":-7.78652},{"x":34650,"y":-7.78670},{"x":34950,"y":-7.78645},{"x":35250,"y":-7.78662},{"x":35550,"y":-7.78658},{"x":35850,"y":-7.78668},{"x":36150,"y":-7.78655},{"x":36450,"y":-7.78665},{"x":36750,"y":-7.78648},{"x":37050,"y":-7.78660},{"x":37350,"y":-7.78652},{"x":37650,"y":-7.78670},{"x":37950,"y":-7.78645},{"x":38250,"y":-7.78662},{"x":38550,"y":-7.78658},{"x":38850,"y":-7.78668},{"x":39150,"y":-7.78655},{"x":39450,"y":-7.78665},{"x":39750,"y":-7.78648},
{"x":26000,"y":-7.78660},{"x":27050,"y":-7.78670},{"x":28250,"y":-7.78665},{"x":29450,"y":-7.78672},{"x":31050,"y":-7.78668},{"x":32250,"y":-7.78660},{"x":33050,"y":-7.78680},{"x":34550,"y":-7.78675},{"x":35850,"y":-7.78665},{"x":37050,"y":-7.78678},{"x":38050,"y":-7.78660},{"x":39250,"y":-7.78670},{"x":39750,"y":-7.78655}
]
},
"layer":[
{"data":{"name":"dqn"},"mark":{"type":"point","filled":true,"size":78,"opacity":1,"clip":true},
"encoding":{
"x":{"field":"x","type":"quantitative","title":"episodes","scale":{"domain":[-2000,41850],"nice":false,"zero":false},"axis":{"values":[0,5000,10000,15000,20000,25000,30000,35000,40000],"format":"d"}},
"y":{"field":"y","type":"quantitative","title":"avg energy","scale":{"domain":[-7.79,-7.786],"nice":false,"zero":false},"axis":{"values":[-7.79,-7.789,-7.788,-7.787,-7.786],"format":".3f"}},
"color":{"datum":"DQN","type":"nominal","scale":{"domain":["DQN","DDQN","DuelDQN","DuelDDQN","chemical accuracy","exact energy"],"range":["#1f77b4","#ff7f0e","#2ca02c","#d62728","#9467bd","#bcbd22"]},
"legend":{"orient":"none","legendX":5,"legendY":-87,"columns":3,"title":null,"symbolSize":2025,"symbolStrokeWidth":0,"clipHeight":20,"labelFont":"Liberation Serif","labelFontSize":23,"labelColor":"#000","labelLimit":400,"labelOffset":22,"columnPadding":160,"rowPadding":13,"padding":10,"strokeColor":"#cccccc","fillColor":"#ffffff","cornerRadius":4,"gridAlign":"each","symbolOpacity":1,
"encode":{"symbols":{"update":{"shape":{"signal":"indexof(['chemical accuracy','exact energy'], datum.value) >= 0 ? 'M-1,-0.034H-0.753V0.034H-1Z M-0.646,-0.034H-0.399V0.034H-0.646Z M-0.292,-0.034H-0.045V0.034H-0.292Z M0.062,-0.034H0.309V0.034H0.062Z M0.416,-0.034H0.663V0.034H0.416Z M0.77,-0.034H1V0.034H0.77Z' : 'M0.2,0A0.2,0.2,0,1,1,-0.2,0A0.2,0.2,0,1,1,0.2,0Z'"}}}}}}
}},
{"data":{"name":"ddqn"},"mark":{"type":"point","filled":true,"size":78,"opacity":1,"clip":true},
"encoding":{
"x":{"field":"x","type":"quantitative","title":"episodes","scale":{"domain":[-2000,41850],"nice":false,"zero":false}},
"y":{"field":"y","type":"quantitative","title":"avg energy","scale":{"domain":[-7.79,-7.786],"nice":false,"zero":false}},
"color":{"datum":"DDQN","type":"nominal","scale":{"domain":["DQN","DDQN","DuelDQN","DuelDDQN","chemical accuracy","exact energy"],"range":["#1f77b4","#ff7f0e","#2ca02c","#d62728","#9467bd","#bcbd22"]}}
}},
{"data":{"name":"dueldqn"},"mark":{"type":"point","filled":true,"size":78,"opacity":1,"clip":true},
"encoding":{
"x":{"field":"x","type":"quantitative","title":"episodes","scale":{"domain":[-2000,41850],"nice":false,"zero":false}},
"y":{"field":"y","type":"quantitative","title":"avg energy","scale":{"domain":[-7.79,-7.786],"nice":false,"zero":false}},
"color":{"datum":"DuelDQN","type":"nominal","scale":{"domain":["DQN","DDQN","DuelDQN","DuelDDQN","chemical accuracy","exact energy"],"range":["#1f77b4","#ff7f0e","#2ca02c","#d62728","#9467bd","#bcbd22"]}}
}},
{"data":{"name":"dueldddqn"},"mark":{"type":"point","filled":true,"size":78,"opacity":1,"clip":true},
"encoding":{
"x":{"field":"x","type":"quantitative","title":"episodes","scale":{"domain":[-2000,41850],"nice":false,"zero":false}},
"y":{"field":"y","type":"quantitative","title":"avg energy","scale":{"domain":[-7.79,-7.786],"nice":false,"zero":false}},
"color":{"datum":"DuelDDQN","type":"nominal","scale":{"domain":["DQN","DDQN","DuelDQN","DuelDDQN","chemical accuracy","exact energy"],"range":["#1f77b4","#ff7f0e","#2ca02c","#d62728","#9467bd","#bcbd22"]}}
}},
{"data":{"values":[{"x":0,"x2":39950,"y":-7.78749}]},"mark":{"type":"rule","color":"#9467bd","strokeWidth":1.5,"strokeDash":[5.5,2.4]},
"encoding":{
"x":{"field":"x","type":"quantitative","title":"episodes","scale":{"domain":[-2000,41850],"nice":false,"zero":false}},
"x2":{"field":"x2"},
"y":{"field":"y","type":"quantitative","title":"avg energy","scale":{"domain":[-7.79,-7.786],"nice":false,"zero":false}}
}},
{"data":{"values":[{"x":0,"x2":39950,"y":-7.78909}]},"mark":{"type":"rule","color":"#bcbd22","strokeWidth":1.5,"strokeDash":[5.5,2.4]},
"encoding":{
"x":{"field":"x","type":"quantitative","title":"episodes","scale":{"domain":[-2000,41850],"nice":false,"zero":false}},
"x2":{"field":"x2"},
"y":{"field":"y","type":"quantitative","title":"avg energy","scale":{"domain":[-7.79,-7.786],"nice":false,"zero":false}}
}},
{"data":{"values":[{"y":-7.786}]},"mark":{"type":"rule","color":"#808080","strokeWidth":2},
"encoding":{
"y":{"field":"y","type":"quantitative","title":"avg energy","scale":{"domain":[-7.79,-7.786],"nice":false,"zero":false}}
}}
]
}
